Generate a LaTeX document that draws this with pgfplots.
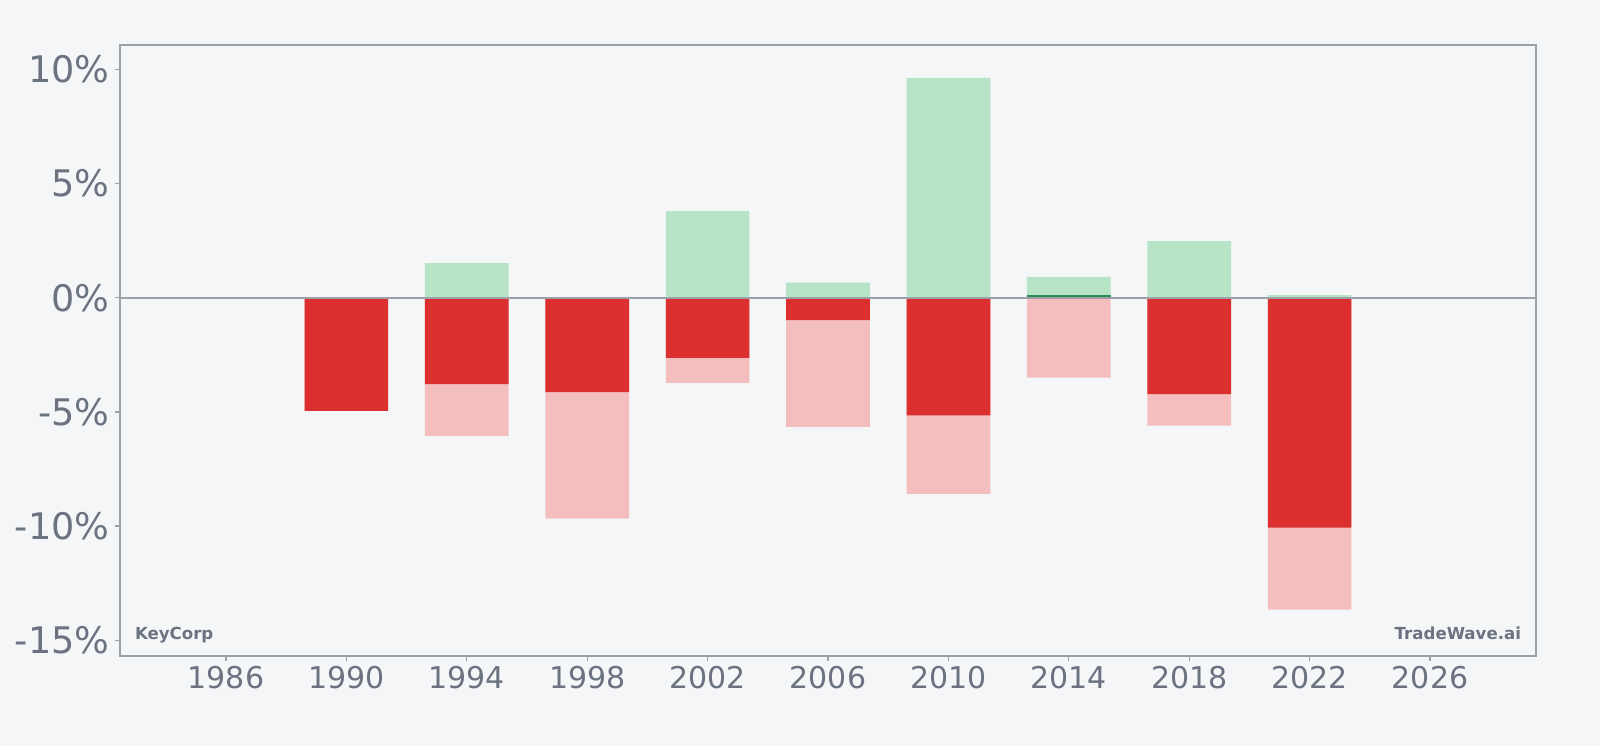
\documentclass[border=0pt]{standalone}
\usepackage{pgfplots}
\pgfplotsset{compat=1.18}
\usepackage{fontspec}
\setmainfont{DejaVu Sans}
\definecolor{bgc}{HTML}{F4F6F8}
\definecolor{axc}{HTML}{9CA0AA}
\definecolor{txc}{HTML}{6B7280}
\definecolor{lgreen}{HTML}{B7E4C7}
\definecolor{lred}{HTML}{F4BEBE}
\definecolor{dred}{HTML}{DC3030}
\definecolor{dgreen}{HTML}{2A8C50}
\begin{document}
\begin{tikzpicture}
\fill[bgc] (-60pt,-45pt) rectangle (740pt,328pt);
\begin{axis}[
  at={(0,0)}, anchor=south west,
  scale only axis, width=708pt, height=305.5pt,
  xmin=1982.48, xmax=2029.52, ymin=-15.69, ymax=11.07,
  axis line style={axc, line width=1pt},
  tick style={axc, line width=0.6pt},
  tick align=outside, tick pos=left,
  major tick length=2.5pt,
  xtick={1986,1990,...,2026},
  xticklabels={1986,1990,1994,1998,2002,2006,2010,2014,2018,2022,2026},
  ytick={-15,-10,-5,0,5,10},
  yticklabels={-15\%,-10\%,-5\%,0\%,5\%,10\%},
  xticklabel style={font=\fontsize{15pt}{16pt}\selectfont, text=txc, yshift=0.8pt},
  yticklabel style={font=\fontsize{18.3pt}{20pt}\selectfont, text=txc, xshift=0.8pt},
  axis background/.style={fill=bgc},
]
% light green: max over period
\addplot[ybar, bar width=2.78, bar shift=0pt, fill=lgreen, draw=none] coordinates {
(1994,1.52) (2002,3.79) (2006,0.66) (2010,9.63) (2014,0.91) (2018,2.48) (2022,0.12)};
% light red: min over period
\addplot[ybar, bar width=2.78, bar shift=0pt, fill=lred, draw=none] coordinates {
(1990,-4.95) (1994,-6.05) (1998,-9.67) (2002,-3.73) (2006,-5.66) (2010,-8.59) (2014,-3.50) (2018,-5.60) (2022,-13.66)};
% dark red: actual negative return
\addplot[ybar, bar width=2.78, bar shift=0pt, fill=dred, draw=none] coordinates {
(1990,-4.95) (1994,-3.78) (1998,-4.13) (2002,-2.63) (2006,-0.98) (2010,-5.15) (2018,-4.22) (2022,-10.07)};
% dark green: actual positive return
\addplot[ybar, bar width=2.78, bar shift=0pt, fill=dgreen, draw=none] coordinates {
(2014,0.14)};
% zero line
\addplot[axc, line width=1pt, forget plot] coordinates {(1982.48,0) (2029.52,0)};
\node[anchor=base west, text=txc, font=\fontsize{8.3pt}{10pt}\selectfont\bfseries] at (rel axis cs:0,0) [xshift=4pt, yshift=8.3pt] {KeyCorp};
\node[anchor=base east, text=txc, font=\fontsize{8.3pt}{10pt}\selectfont\bfseries] at (rel axis cs:1,0) [xshift=-4pt, yshift=8.3pt] {TradeWave.ai};
\end{axis}
\end{tikzpicture}
\end{document}
